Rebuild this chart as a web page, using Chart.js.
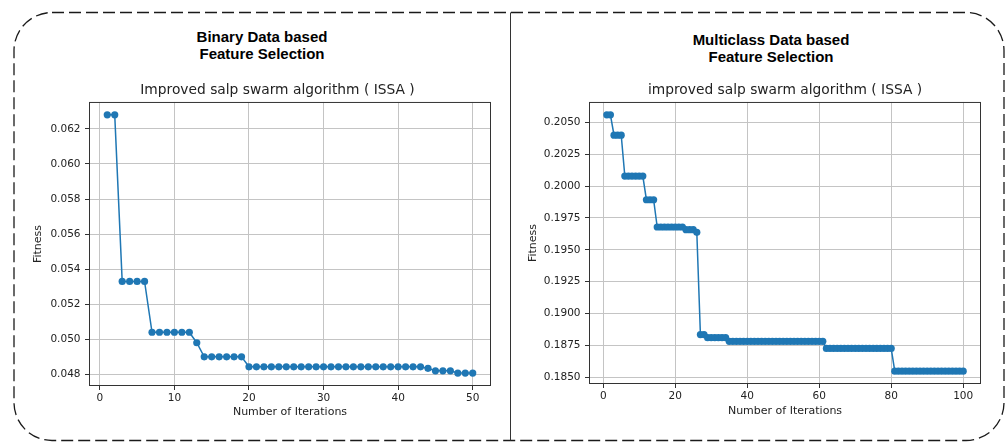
<!DOCTYPE html>
<html>
<head>
<meta charset="utf-8">
<script src="https://cdn.jsdelivr.net/npm/chart.js@4.4.0/dist/chart.umd.min.js"></script>
<style>
body{margin:0;background:#fff;width:1006px;height:442px;position:relative;overflow:hidden}
.head{position:absolute;width:300px;text-align:center;font:bold 15px "Liberation Sans",Arial,sans-serif;line-height:16.5px;color:#000}
canvas{position:absolute}
svg{position:absolute;left:0;top:0}
</style>
</head>
<body>
<svg width="1006" height="442">
  <rect x="14" y="12.5" width="990" height="428" rx="38" ry="38" fill="none" stroke="#1a1a1a" stroke-width="1.3" stroke-dasharray="12 5"/>
  <line x1="510.5" y1="12.5" x2="510.5" y2="440.5" stroke="#333" stroke-width="1"/>
</svg>
<div class="head" style="left:112px;top:29px">Binary Data based<br>Feature Selection</div>
<div class="head" style="left:621px;top:32px">Multiclass Data based<br>Feature Selection</div>
<canvas id="binChart" width="505" height="372" style="left:0;top:70px"></canvas>
<canvas id="multiChart" width="496" height="372" style="left:510px;top:70px"></canvas>
<script>
// binary data run (50 iterations)
let binIter=[1,2,3,4,5,6,7,8,9,10,11,12,13,14,15,16,17,18,19,20,21,22,23,24,25,26,27,28,29,30,31,32,33,34,35,36,37,38,39,40,41,42,43,44,45,46,47,48,49,50]
let binFit=[0.0628,0.0628,0.0533,0.0533,0.0533,0.0533,0.0504,0.0504,0.0504,0.0504,0.0504,0.0504,0.0498,
  0.0490,0.0490,0.0490,0.0490,0.0490,0.0490,
  0.04843,0.04843,0.04843,0.04843,0.04843,0.04843,0.04843,0.04843,0.04843,0.04843,0.04843,0.04843,
  0.04843,0.04843,0.04843,0.04843,0.04843,0.04843,0.04843,0.04843,0.04843,0.04843,0.04843,0.04843,
  0.04834,0.0482,0.0482,0.0482,0.04807,0.04807,0.04807]
let binXTicks=[0,10,20,30,40,50]
let binYTicks=[0.048,0.050,0.052,0.054,0.056,0.058,0.060,0.062]

// multiclass data run (100 iterations)
let multiIter=[1,2,3,4,5,6,7,8,9,10,11,12,13,14,15,16,17,18,19,20,21,22,23,24,25,26,27,28,29,30,
  31,32,33,34,35,36,37,38,39,40,41,42,43,44,45,46,47,48,49,50,51,52,53,54,55,56,57,58,59,60,
  61,62,63,64,65,66,67,68,69,70,71,72,73,74,75,76,77,78,79,80,81,82,83,84,85,86,87,88,89,90,
  91,92,93,94,95,96,97,98,99,100]
let multiFit=[0.2056,0.2056,0.2040,0.2040,0.2040,
  0.20079,0.20079,0.20079,0.20079,0.20079,0.20079,
  0.19893,0.19893,0.19893,
  0.19679,0.19679,0.19679,0.19679,0.19679,0.19679,0.19679,0.19679,
  0.19658,0.19658,0.19658,0.19637,
  0.18834,0.18834,
  0.18810,0.18810,0.18810,0.18810,0.18810,0.18810,
  0.18781,0.18781,0.18781,0.18781,0.18781,0.18781,0.18781,0.18781,0.18781,0.18781,
  0.18781,0.18781,0.18781,0.18781,0.18781,0.18781,0.18781,0.18781,0.18781,0.18781,
  0.18781,0.18781,0.18781,0.18781,0.18781,0.18781,0.18781,
  0.18726,0.18726,0.18726,0.18726,0.18726,0.18726,0.18726,0.18726,0.18726,0.18726,
  0.18726,0.18726,0.18726,0.18726,0.18726,0.18726,0.18726,0.18726,0.18726,
  0.18547,0.18547,0.18547,0.18547,0.18547,0.18547,0.18547,0.18547,0.18547,0.18547,
  0.18547,0.18547,0.18547,0.18547,0.18547,0.18547,0.18547,0.18547,0.18547,0.18547]
let multiXTicks=[0,20,40,60,80,100]
let multiYTicks=[0.1850,0.1875,0.1900,0.1925,0.1950,0.1975,0.2000,0.2025,0.2050]

const blue='#1f77b4'
const tickFont={family:'"DejaVu Sans"',size:10.5}
const labelFont={family:'"DejaVu Sans"',size:11}

// axis limits with a 5% margin like matplotlib
function margins(list){
  let lo=Math.min(...list), hi=Math.max(...list), m=(hi-lo)*0.05
  return [lo-m,hi+m]
}

// box around the plot area, and a sideways nudge for the title
const frame={
  id:'frame',
  afterLayout(chart,args,opts){
    let t=chart.titleBlock
    if(t&&opts.shift){ t.left+=opts.shift; t.right+=opts.shift }
  },
  afterDatasetsDraw(chart){
    let a=chart.chartArea, c=chart.ctx
    c.save()
    c.strokeStyle='#333'
    c.lineWidth=1
    c.strokeRect(a.left+0.5,a.top+0.5,a.right-a.left-1,a.bottom-a.top-1)
    c.restore()
  }
}

function makeChart(el,iter,fit,xTicks,yTicks,digits,title,box){
  let [xMin,xMax]=margins(iter)
  let [yMin,yMax]=margins(fit)
  return new Chart(document.getElementById(el),{
    type:'line',
    data:{
      datasets:[{
        data:iter.map((x,i)=>({x:x,y:fit[i]})),
        borderColor:blue,
        backgroundColor:blue,
        borderWidth:1.5,
        pointRadius:3.6,
        pointBorderWidth:0,
        pointBackgroundColor:blue,
        tension:0
      }]
    },
    options:{
      responsive:false,
      animation:false,
      layout:{padding:{left:0,right:box.padRight,top:0,bottom:0}},
      plugins:{
        legend:{display:false},
        tooltip:{enabled:false},
        frame:{shift:box.titleShift},
        title:{display:true,text:title,fullSize:false,color:'#222',
          font:{family:'"DejaVu Sans"',size:13.8,weight:'normal'},padding:{top:12.2,bottom:3.2}}
      },
      scales:{
        x:{
          type:'linear',min:xMin,max:xMax,
          afterBuildTicks:s=>{s.ticks=xTicks.map(v=>({value:v}))},
          afterFit:s=>{s.height=box.xHeight},
          grid:{color:'#c4c4c4',tickLength:4,tickColor:'#333'},
          border:{display:false},
          ticks:{font:tickFont,color:'#222',padding:2,maxRotation:0,autoSkip:false},
          title:{display:true,text:'Number of Iterations',font:labelFont,color:'#222',padding:{top:0,bottom:box.xTitlePad}}
        },
        y:{
          type:'linear',min:yMin,max:yMax,
          afterBuildTicks:s=>{s.ticks=yTicks.map(v=>({value:v}))},
          afterFit:s=>{s.width=box.yWidth},
          grid:{color:'#c4c4c4',tickLength:4,tickColor:'#333'},
          border:{display:false},
          ticks:{font:tickFont,color:'#222',padding:4.5,autoSkip:false,callback:v=>v.toFixed(digits)},
          title:{display:true,text:'Fitness',font:labelFont,color:'#222',padding:{top:box.yTitlePad,bottom:0}}
        }
      }
    },
    plugins:[frame]
  })
}

let binChart=makeChart('binChart',binIter,binFit,binXTicks,binYTicks,3,
  'Improved salp swarm algorithm ( ISSA )',
  {padRight:14,yWidth:89,xHeight:56,xTitlePad:23.4,yTitlePad:31.6,titleShift:-12.5})

let multiChart=makeChart('multiChart',multiIter,multiFit,multiXTicks,multiYTicks,4,
  'improved salp swarm algorithm ( ISSA )',
  {padRight:25,yWidth:79,xHeight:58,xTitlePad:24.7,yTitlePad:16.4,titleShift:0})
</script>
</body>
</html>
